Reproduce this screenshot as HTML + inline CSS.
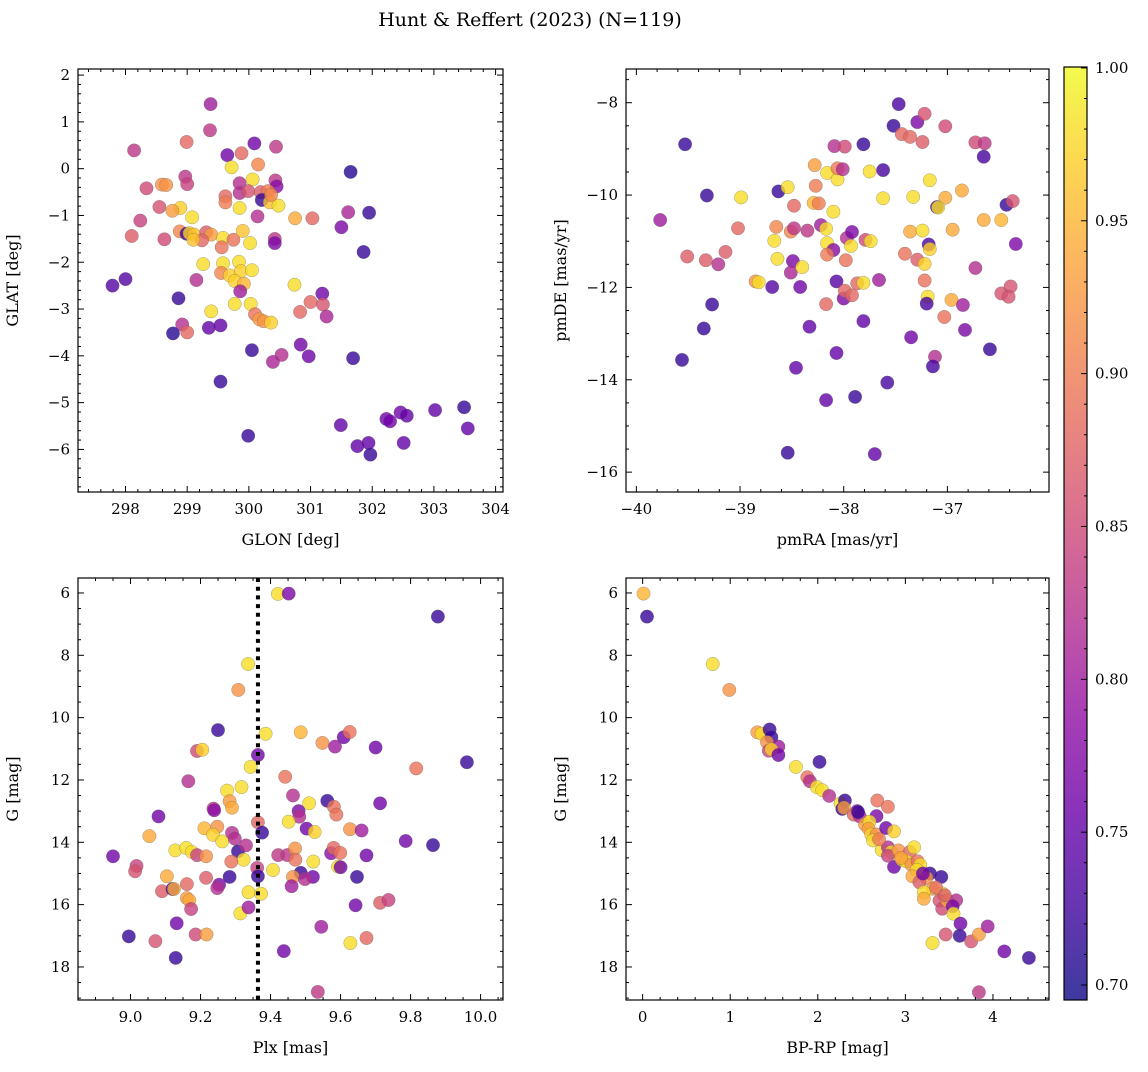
<!DOCTYPE html>
<html><head><meta charset="utf-8">
<style>
html,body{margin:0;padding:0;background:#fff;}
svg text{font-family:"DejaVu Serif","Liberation Serif",serif;fill:#000;}
</style></head>
<body>
<svg id="fig" width="1148" height="1067" viewBox="0 0 1148 1067" xmlns="http://www.w3.org/2000/svg">
<rect width="1148" height="1067" fill="#fff"/>
<text x="530" y="26" font-size="19" text-anchor="middle">Hunt &amp; Reffert (2023) (N=119)</text>
<defs>
<linearGradient id="plasma" x1="0" y1="1" x2="0" y2="0">
<stop offset="0" stop-color="#0d0887"/><stop offset="0.1" stop-color="#41049d"/><stop offset="0.2" stop-color="#6a00a8"/><stop offset="0.3" stop-color="#8f0da4"/><stop offset="0.4" stop-color="#b12a90"/><stop offset="0.5" stop-color="#cc4778"/><stop offset="0.6" stop-color="#e16462"/><stop offset="0.7" stop-color="#f2844b"/><stop offset="0.8" stop-color="#fca636"/><stop offset="0.9" stop-color="#fcce25"/><stop offset="1" stop-color="#f0f921"/>
</linearGradient>
</defs>
</svg>
<script>
// ---- data: [x, y, membership probability] ----
const glonGlat = [[299.38,1.38,.80],[299.37,0.82,.83],[298.99,0.57,.88],[298.14,0.39,.83],[300.09,0.54,.76],[300.44,0.47,.83],[299.65,0.29,.76],[299.88,0.33,.88],[300.15,0.09,.91],[299.72,0.03,.98],[300.06,-0.23,.98],[298.97,-0.17,.83],[299.0,-0.33,.84],[298.34,-0.42,.85],[298.59,-0.34,.92],[298.66,-0.35,.92],[299.85,-0.31,.82],[299.85,-0.52,.82],[299.99,-0.48,.86],[300.43,-0.25,.83],[300.45,-0.38,.78],[300.19,-0.5,.87],[300.31,-0.48,.9],[300.21,-0.67,.72],[299.62,-0.59,.88],[299.62,-0.72,.9],[300.34,-0.72,.96],[300.48,-0.79,.98],[300.36,-0.56,.91],[299.85,-0.84,.98],[298.55,-0.82,.86],[298.89,-0.84,.97],[298.76,-0.9,.93],[299.08,-1.04,.98],[300.75,-1.06,.94],[301.03,-1.06,.88],[300.14,-1.02,.82],[298.24,-1.11,.84],[298.1,-1.44,.87],[298.63,-1.51,.85],[298.88,-1.34,.91],[298.99,-1.39,.72],[299.04,-1.38,.97],[299.11,-1.41,.96],[299.31,-1.36,.87],[299.39,-1.41,.93],[299.24,-1.53,.88],[299.1,-1.52,.96],[299.58,-1.48,.98],[299.75,-1.52,.89],[299.9,-1.33,.96],[300.02,-1.59,.98],[299.56,-1.68,.89],[300.42,-1.5,.83],[300.42,-1.59,.77],[299.26,-2.04,.98],[299.58,-2.02,.98],[299.84,-1.99,.98],[299.55,-2.23,.91],[299.69,-2.28,.97],[299.87,-2.19,.97],[300.05,-2.17,.98],[299.77,-2.4,.97],[299.92,-2.46,.95],[299.86,-2.62,.80],[299.15,-2.38,.82],[300.74,-2.48,.98],[297.79,-2.5,.74],[298.0,-2.36,.74],[298.86,-2.77,.72],[301.19,-2.67,.76],[301.0,-2.85,.88],[301.2,-2.9,.86],[300.83,-3.06,.88],[301.26,-3.16,.81],[299.77,-2.89,.98],[300.03,-2.89,.98],[299.39,-3.05,.98],[300.1,-3.11,.89],[300.17,-3.22,.93],[300.24,-3.26,.92],[300.36,-3.29,.97],[298.92,-3.33,.82],[299.0,-3.5,.88],[298.77,-3.52,.71],[299.35,-3.4,.75],[299.54,-3.35,.75],[300.05,-3.88,.72],[300.53,-3.98,.82],[300.39,-4.13,.81],[300.84,-3.76,.76],[300.97,-4.01,.76],[299.54,-4.55,.72],[299.99,-5.71,.72],[301.65,-0.07,.71],[301.61,-0.93,.81],[301.95,-0.94,.72],[301.5,-1.25,.77],[301.86,-1.78,.72],[301.69,-4.05,.72],[301.49,-5.48,.75],[301.76,-5.93,.75],[301.94,-5.86,.75],[301.97,-6.11,.72],[302.23,-5.35,.76],[302.29,-5.4,.76],[302.46,-5.21,.76],[302.56,-5.28,.75],[302.51,-5.86,.75],[303.02,-5.16,.75],[303.49,-5.1,.72],[303.55,-5.55,.75]];
const pmraPmde = [[-39.53,-8.90,.72],[-39.32,-10.01,.72],[-39.77,-10.54,.80],[-38.99,-10.05,.98],[-39.02,-10.72,.88],[-39.51,-11.33,.87],[-39.33,-11.41,.87],[-39.21,-11.50,.82],[-39.14,-11.23,.87],[-38.85,-11.87,.92],[-38.82,-11.89,.98],[-38.69,-11.99,.74],[-39.27,-12.37,.72],[-39.35,-12.89,.72],[-39.56,-13.57,.72],[-38.63,-9.92,.72],[-38.54,-9.83,.98],[-38.28,-9.35,.93],[-38.27,-9.80,.90],[-38.48,-10.23,.88],[-38.29,-10.17,.95],[-38.24,-10.18,.90],[-38.16,-9.52,.98],[-38.06,-9.66,.98],[-38.06,-9.42,.90],[-38.01,-9.44,.82],[-38.09,-8.94,.82],[-37.99,-8.95,.85],[-37.81,-8.90,.72],[-37.75,-9.49,.98],[-37.62,-9.46,.73],[-38.10,-10.36,.98],[-38.65,-10.69,.91],[-38.51,-10.79,.91],[-38.48,-10.72,.83],[-38.35,-10.77,.83],[-38.67,-10.99,.98],[-38.64,-11.38,.98],[-38.49,-11.43,.77],[-38.51,-11.68,.81],[-38.40,-11.56,.98],[-38.22,-10.65,.80],[-38.17,-10.73,.98],[-38.16,-11.04,.98],[-38.10,-11.19,.78],[-38.16,-11.29,.90],[-37.98,-11.41,.89],[-37.97,-10.93,.82],[-37.92,-10.80,.77],[-37.93,-11.10,.98],[-37.79,-10.97,.85],[-37.74,-11.00,.98],[-38.07,-11.87,.74],[-38.00,-12.24,.77],[-37.99,-12.07,.88],[-37.92,-12.17,.88],[-37.87,-11.91,.88],[-37.81,-11.90,.98],[-37.66,-11.84,.80],[-38.42,-11.99,.76],[-38.17,-12.36,.88],[-38.33,-12.85,.75],[-37.81,-12.73,.75],[-38.07,-13.42,.75],[-38.46,-13.74,.75],[-38.17,-14.44,.75],[-37.89,-14.37,.72],[-37.58,-14.06,.73],[-38.54,-15.58,.72],[-37.70,-15.61,.75],[-37.35,-13.08,.76],[-37.47,-8.03,.73],[-37.52,-8.50,.72],[-37.29,-8.42,.77],[-37.22,-8.24,.86],[-37.44,-8.68,.88],[-37.36,-8.74,.88],[-37.24,-8.85,.87],[-37.02,-8.51,.85],[-36.73,-8.86,.85],[-36.64,-8.88,.83],[-36.65,-9.17,.73],[-37.17,-9.68,.98],[-37.62,-10.07,.98],[-37.33,-10.04,.98],[-37.02,-10.06,.94],[-36.86,-9.90,.94],[-37.10,-10.26,.72],[-37.09,-10.27,.98],[-36.43,-10.21,.72],[-36.37,-10.13,.86],[-37.36,-10.79,.94],[-37.24,-10.77,.98],[-36.95,-10.75,.94],[-36.65,-10.54,.94],[-36.48,-10.54,.95],[-37.18,-11.07,.73],[-37.17,-11.17,.97],[-36.34,-11.06,.77],[-37.41,-11.27,.89],[-37.29,-11.40,.87],[-37.22,-11.49,.97],[-37.22,-11.85,.89],[-36.73,-11.58,.82],[-37.19,-12.20,.98],[-37.20,-12.35,.73],[-36.96,-12.27,.94],[-37.03,-12.64,.89],[-36.85,-12.38,.80],[-36.83,-12.92,.77],[-36.59,-13.34,.72],[-36.48,-12.13,.86],[-36.39,-11.98,.86],[-36.41,-12.20,.86],[-37.12,-13.50,.82],[-37.14,-13.71,.73]];
const plxG = [[9.421,6.03,.98],[9.452,6.02,.77],[9.878,6.76,.72],[9.336,8.28,.98],[9.308,9.11,.92],[9.25,10.40,.72],[9.386,10.52,.98],[9.486,10.47,.95],[9.548,10.81,.92],[9.584,10.93,.80],[9.609,10.63,.76],[9.626,10.46,.89],[9.70,10.96,.76],[9.961,11.43,.72],[9.816,11.63,.89],[9.364,11.2,.76],[9.343,11.58,.98],[9.19,11.07,.85],[9.205,11.03,.97],[9.165,12.04,.82],[9.442,11.9,.89],[9.276,12.34,.98],[9.317,12.23,.98],[9.283,12.68,.93],[9.29,12.89,.94],[9.237,12.92,.83],[9.239,12.97,.78],[9.464,12.5,.82],[9.51,12.75,.98],[9.562,12.67,.72],[9.581,12.86,.89],[9.588,13.11,.89],[9.48,13.0,.77],[9.482,13.18,.82],[9.713,12.75,.76],[9.08,13.17,.76],[9.054,13.8,.94],[9.211,13.55,.95],[9.248,13.5,.92],[9.236,13.76,.97],[9.262,13.97,.98],[9.29,13.7,.82],[9.298,13.88,.82],[9.364,13.36,.88],[9.376,13.69,.72],[9.452,13.34,.98],[9.503,13.56,.76],[9.526,13.67,.97],[9.627,13.58,.92],[9.66,13.62,.80],[9.786,13.96,.76],[9.864,14.09,.72],[8.95,14.45,.76],[9.128,14.26,.98],[9.159,14.18,.98],[9.175,14.31,.98],[9.19,14.41,.84],[9.216,14.45,.92],[9.307,14.29,.72],[9.33,14.1,.82],[9.323,14.56,.98],[9.288,14.62,.89],[9.362,14.82,.84],[9.422,14.41,.83],[9.448,14.41,.83],[9.47,14.2,.92],[9.471,14.56,.89],[9.522,14.62,.98],[9.573,14.35,.78],[9.58,14.18,.88],[9.599,14.34,.89],[9.674,14.42,.76],[9.407,14.89,.98],[9.593,14.78,.98],[9.60,14.8,.76],[9.017,14.76,.84],[9.013,14.93,.86],[9.104,15.09,.94],[9.216,15.14,.87],[9.161,15.34,.88],[9.253,15.36,.77],[9.248,15.47,.82],[9.283,15.11,.72],[9.364,15.09,.72],[9.337,15.6,.98],[9.373,15.65,.98],[9.486,14.98,.72],[9.464,15.11,.92],[9.521,15.11,.76],[9.498,15.18,.82],[9.46,15.41,.80],[9.647,15.11,.72],[9.09,15.57,.87],[9.12,15.5,.72],[9.124,15.5,.94],[9.161,15.79,.93],[9.168,15.86,.94],[9.173,16.14,.84],[9.314,16.28,.98],[9.337,16.09,.80],[9.643,16.02,.76],[9.713,15.94,.87],[9.737,15.85,.84],[9.132,16.6,.76],[8.995,17.02,.72],[9.071,17.17,.86],[9.186,16.96,.85],[9.217,16.96,.93],[9.129,17.71,.72],[9.438,17.49,.76],[9.545,16.71,.80],[9.628,17.23,.98],[9.674,17.07,.88],[9.535,18.8,.83]];
const bprpG = [[0.01,6.02,.95],[0.05,6.76,.72],[0.80,8.28,.98],[0.99,9.11,.92],[1.31,10.47,.93],[1.36,10.52,.98],[1.45,10.38,.72],[1.47,10.63,.72],[1.42,10.79,.92],[1.55,10.93,.80],[1.44,11.06,.84],[1.47,11.02,.97],[1.55,11.2,.76],[1.75,11.58,.98],[2.02,11.42,.72],[1.88,11.91,.89],[1.91,12.04,.82],[1.99,12.23,.98],[2.05,12.33,.98],[2.13,12.51,.82],[2.26,12.75,.98],[2.31,12.66,.72],[2.28,12.93,.72],[2.30,12.89,.93],[2.45,13.0,.77],[2.41,13.11,.88],[2.48,13.17,.82],[2.46,13.03,.72],[2.54,13.43,.93],[2.68,12.66,.89],[2.80,12.86,.89],[2.67,13.16,.77],[2.59,13.34,.98],[2.58,13.56,.93],[2.61,13.75,.97],[2.67,13.75,.92],[2.78,13.54,.76],[2.87,13.65,.97],[2.63,13.94,.98],[2.73,14.25,.98],[2.80,14.16,.82],[2.87,14.79,.76],[2.84,14.31,.98],[2.80,14.43,.84],[2.92,14.26,.92],[3.05,14.31,.88],[3.10,14.16,.98],[2.96,14.56,.98],[3.01,14.61,.98],[3.07,14.72,.92],[3.14,14.61,.89],[3.17,14.72,.98],[3.13,14.89,.98],[3.08,15.09,.94],[3.28,15.0,.72],[3.24,15.14,.92],[3.16,15.28,.87],[3.41,15.11,.72],[3.31,15.49,.93],[3.21,15.6,.98],[3.21,15.81,.94],[3.42,15.64,.98],[3.39,15.87,.86],[3.42,16.13,.85],[3.48,15.87,.94],[3.58,15.86,.82],[3.54,16.05,.77],[3.55,16.29,.98],[3.63,16.61,.76],[3.46,16.96,.86],[3.62,17.0,.72],[3.31,17.23,.98],[3.75,17.18,.86],[3.84,16.96,.93],[3.94,16.7,.80],[4.13,17.5,.76],[4.41,17.71,.72],[3.84,18.81,.83],[2.95,14.5,.93],[3.35,15.45,.89],[3.45,15.7,.87],[2.70,13.9,.90],[3.20,15.0,.76]];

// colorbar
const cbTicks = [0.70,0.75,0.80,0.85,0.90,0.95,1.00];
const vmin = 0.6951, vmax = 1.0003;

const NS = "http://www.w3.org/2000/svg";
const svg = document.getElementById('fig');
function mk(tag, attrs, parent){ const e=document.createElementNS(NS,tag); for(const k in attrs) e.setAttribute(k,attrs[k]); (parent||svg).appendChild(e); return e; }

const stops=[[0,[13,8,135]],[0.1,[65,4,157]],[0.2,[106,0,168]],[0.3,[143,13,164]],[0.4,[177,42,144]],[0.5,[204,71,120]],[0.6,[225,100,98]],[0.7,[242,132,75]],[0.8,[252,166,54]],[0.9,[252,206,37]],[1,[240,249,33]]];
function plasma(v){ let t=(v-vmin)/(vmax-vmin); t=Math.max(0,Math.min(1,t));
  for(let i=1;i<stops.length;i++){ if(t<=stops[i][0]){ const a=stops[i-1],b=stops[i]; const f=(t-a[0])/(b[0]-a[0]);
    const c=a[1].map((x,j)=>Math.round(x+(b[1][j]-x)*f)); return `rgb(${c[0]},${c[1]},${c[2]})`; } } return 'rgb(240,249,33)'; }

function fmt(v,d){ const s=Math.abs(v).toFixed(d); return (v< -1e-9?'\u2212':'')+s; }

const panels = [
 {name:'glon-glat', data:glonGlat, L:78,T:69,R:503,B:492, xmin:297.23,xmax:304.12, ymin:-6.91,ymax:2.13, inv:false,
  xmaj:1,xmin_:0.2,ymaj:1,ymin_:0.2,xd:0,yd:0, xl:'GLON [deg]', yl:'GLAT [deg]'},
 {name:'pmra-pmde', data:pmraPmde, L:626,T:69,R:1049,B:492, xmin:-40.10,xmax:-36.02, ymin:-16.43,ymax:-7.27, inv:false,
  xmaj:1,xmin_:0.2,ymaj:2,ymin_:0.5,xd:0,yd:0, xl:'pmRA [mas/yr]', yl:'pmDE [mas/yr]'},
 {name:'plx-g', data:plxG, L:78,T:578,R:503,B:1000, xmin:8.85,xmax:10.064, ymin:5.52,ymax:19.06, inv:true,
  xmaj:0.2,xmin_:0.05,ymaj:2,ymin_:0.5,xd:1,yd:0, xl:'Plx [mas]', yl:'G [mag]'},
 {name:'bprp-g', data:bprpG, L:626,T:578,R:1049,B:1000, xmin:-0.19,xmax:4.64, ymin:5.52,ymax:19.06, inv:true,
  xmaj:1,xmin_:0.2,ymaj:2,ymin_:0.5,xd:0,yd:0, xl:'BP-RP [mag]', yl:'G [mag]'}
];

panels.forEach(p=>{
  const g = mk('g',{});
  
  
  const sx = v => p.L + (v-p.xmin)/(p.xmax-p.xmin)*(p.R-p.L);
  const sy = v => p.inv ? p.T + (v-p.ymin)/(p.ymax-p.ymin)*(p.B-p.T) : p.B - (v-p.ymin)/(p.ymax-p.ymin)*(p.B-p.T);
  const clipId='clip-'+p.name;
  const cp=mk('clipPath',{id:clipId},g); mk('rect',{x:p.L,y:p.T,width:p.R-p.L,height:p.B-p.T},cp);
  const pts=mk('g',{'clip-path':`url(#${clipId})`},g);
  p.data.forEach(d=>{
    const c=mk('circle',{cx:sx(d[0]).toFixed(1),cy:sy(d[1]).toFixed(1),r:6.7,fill:plasma(d[2]),'fill-opacity':0.8,stroke:'#555','stroke-opacity':0.5,'stroke-width':0.5},pts);
    
    
  });
  if(p.name==='plx-g'){
    const ln=mk('line',{x1:sx(9.364),x2:sx(9.364),y1:p.T,y2:p.B,stroke:'#000','stroke-width':4,'stroke-dasharray':'4 4.7'},pts);
    
    
  }
  const tk=mk('g',{stroke:'#000','stroke-width':1},g);
  const eps=1e-6;
  for(let v=Math.ceil(p.xmin/p.xmin_)*p.xmin_; v<=p.xmax+eps; v+=p.xmin_){
    const isMaj=Math.abs(v/p.xmaj-Math.round(v/p.xmaj))<1e-4; const len=isMaj?6:3; const x=sx(v);
    mk('line',{x1:x,x2:x,y1:p.B,y2:p.B-len},tk); mk('line',{x1:x,x2:x,y1:p.T,y2:p.T+len},tk);
    if(isMaj){ const t=mk('text',{x:x,y:p.B+22,'font-size':15,'text-anchor':'middle'},g); t.textContent=fmt(Math.round(v/p.xmaj)*p.xmaj,p.xd);
        }
  }
  for(let v=Math.ceil(p.ymin/p.ymin_)*p.ymin_; v<=p.ymax+eps; v+=p.ymin_){
    const isMaj=Math.abs(v/p.ymaj-Math.round(v/p.ymaj))<1e-4; const len=isMaj?6:3; const y=sy(v);
    mk('line',{x1:p.L,x2:p.L+len,y1:y,y2:y},tk); mk('line',{x1:p.R,x2:p.R-len,y1:y,y2:y},tk);
    if(isMaj){ const t=mk('text',{x:p.L-8,y:y+5,'font-size':15,'text-anchor':'end'},g); t.textContent=fmt(Math.round(v/p.ymaj)*p.ymaj,p.yd);
        }
  }
  mk('rect',{x:p.L,y:p.T,width:p.R-p.L,height:p.B-p.T,fill:'none',stroke:'#000','stroke-width':1.2},g);
  const xt=mk('text',{x:(p.L+p.R)/2,y:p.B+53,'font-size':16,'text-anchor':'middle'},g); xt.textContent=p.xl;
   
  const yx=p.L-60, yy=(p.T+p.B)/2;
  const yt=mk('text',{x:yx,y:yy,'font-size':16,'text-anchor':'middle',transform:`rotate(-90 ${yx} ${yy})`},g); yt.textContent=p.yl;
   
});

// colorbar
const cb=mk('g',{});


const cbL=1064, cbR=1087, cbT=67, cbB=1000;
mk('rect',{x:cbL,y:cbT,width:cbR-cbL,height:cbB-cbT,fill:'url(#plasma)','fill-opacity':0.8},cb);
mk('rect',{x:cbL,y:cbT,width:cbR-cbL,height:cbB-cbT,fill:'none',stroke:'#000','stroke-width':1.2},cb);
const cy=v=>cbB-(v-vmin)/(vmax-vmin)*(cbB-cbT);
for(let k=70;k<=100;k++){ const v=k/100; const maj=(k%5===0); const y=cy(v);
  mk('line',{x1:cbR,x2:cbR-(maj?6:3),y1:y,y2:y,stroke:'#000','stroke-width':1},cb); }
cbTicks.forEach(v=>{ const t=mk('text',{x:cbR+8,y:cy(v)+5,'font-size':15},cb); t.textContent=v.toFixed(2);
    });
</script>
</body></html>
